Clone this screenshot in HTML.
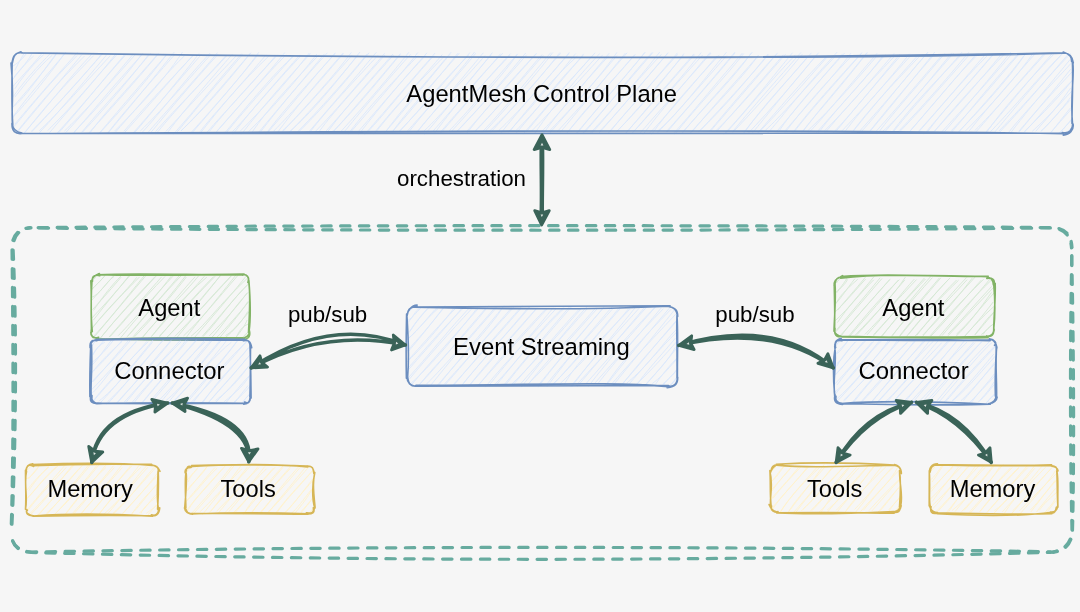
<!DOCTYPE html>
<html><head><meta charset="utf-8"><style>
html,body{margin:0;padding:0;background:#f6f6f6;width:1080px;height:612px;overflow:hidden}
svg{display:block;will-change:transform}
text{font-family:"Liberation Sans",sans-serif;fill:#000}
</style></head><body>
<svg width="1080" height="612" viewBox="0 0 1080 612">
<path d="M13.0 58.8C14.3 57.0 15.4 56.1 17.5 53.5M13.2 58.2C14.4 57.8 15.3 56.3 16.7 53.4M12.0 66.6C16.8 63.9 22.1 59.7 26.1 54.0M14.9 70.3C17.8 64.1 21.0 58.4 24.7 52.4M12.5 79.8C21.8 67.4 26.6 62.5 33.7 55.9M14.1 77.1C18.2 70.9 25.8 65.0 32.3 53.0M11.7 87.8C19.5 78.8 27.1 71.2 42.8 52.5M14.9 88.8C21.1 79.0 29.2 68.4 43.6 54.6M12.0 98.3C20.2 87.1 27.4 76.8 50.9 53.0M14.8 97.1C25.3 84.1 36.5 68.9 52.2 55.3M14.8 105.6C26.6 94.9 36.7 79.9 57.3 52.2M12.0 108.1C31.5 85.5 48.7 65.6 57.2 52.9M12.1 118.1C28.3 94.9 45.5 77.1 65.5 52.7M12.4 118.0C28.7 100.0 43.0 82.8 65.8 52.1M14.9 124.1C25.7 111.0 38.8 95.7 77.6 52.3M13.9 126.8C32.6 104.1 51.1 81.3 77.2 55.5M16.0 133.0C34.1 110.1 54.4 85.8 84.5 56.0M16.7 132.8C40.9 103.8 65.8 74.1 82.1 54.4M24.1 133.0C46.4 108.0 63.0 84.9 93.0 52.8M23.8 134.1C39.0 114.3 54.7 95.4 93.5 55.7M31.7 131.0C58.2 104.2 85.3 74.2 102.4 53.1M31.3 132.2C48.7 114.4 64.0 96.8 102.6 53.8M38.9 133.3C56.4 114.4 72.0 96.3 107.5 53.8M39.3 130.7C54.5 116.7 68.5 101.0 110.2 55.8M47.8 130.5C72.5 106.9 94.3 78.7 116.7 54.8M48.7 133.7C70.5 107.5 91.3 84.9 115.9 53.8M57.7 134.0C80.2 108.9 101.0 82.2 124.5 54.9M56.3 134.1C83.0 104.6 106.9 75.7 125.0 55.6M65.6 132.7C92.4 103.9 114.8 76.0 132.3 55.2M64.4 131.1C82.1 114.1 98.8 95.7 135.8 54.0M74.3 131.7C102.3 102.8 128.1 73.1 142.6 53.2M73.0 133.9C93.4 110.3 111.5 88.0 142.5 54.0M82.6 132.1C106.3 106.9 127.0 82.2 149.0 54.2M81.6 132.4C100.3 109.6 121.0 88.3 150.6 53.3M89.4 133.6C105.0 112.0 122.1 95.3 158.4 53.4M89.3 132.5C113.1 106.2 135.7 81.2 158.6 53.7M99.7 133.1C120.7 110.3 141.9 86.3 166.4 55.0M98.5 134.2C122.7 105.3 148.8 75.2 166.4 54.9M107.2 133.7C123.9 111.9 143.3 90.6 174.6 54.7M107.6 133.5C132.9 103.4 158.4 72.1 174.2 52.1M114.5 131.2C135.9 109.4 160.2 85.4 182.5 52.2M115.2 132.4C142.6 101.4 169.4 69.9 184.9 55.4M123.9 131.3C139.1 113.7 154.6 96.7 193.7 54.8M124.6 132.5C150.4 104.0 174.3 75.0 193.5 55.1M134.1 133.3C158.6 104.5 181.9 75.9 199.1 53.4M133.1 133.0C152.9 110.5 173.8 86.3 201.5 54.3M141.5 133.3C163.1 109.7 181.0 84.1 210.1 53.0M140.4 130.9C160.3 111.7 180.0 88.9 211.0 54.3M147.6 132.9C177.3 98.9 205.2 68.1 217.4 52.7M151.1 132.2C169.6 109.8 189.7 85.7 218.1 54.2M155.7 131.5C173.0 111.3 193.3 92.0 227.5 55.0M155.9 134.1C171.0 115.4 186.5 98.4 226.0 55.7M167.2 132.9C188.0 105.3 212.9 76.6 232.4 54.1M165.8 131.5C181.6 114.5 197.3 97.0 236.2 55.8M175.9 133.6C198.9 105.2 221.2 79.3 242.8 54.4M173.3 134.4C197.0 108.0 217.6 80.8 241.6 53.7M181.0 130.8C206.2 107.2 228.1 81.0 250.8 52.8M181.0 131.0C201.2 111.2 219.5 89.3 250.6 53.0M193.0 131.8C216.1 104.9 242.3 75.2 258.7 52.4M191.3 132.4C217.6 103.2 243.4 73.3 258.1 54.6M200.1 131.6C213.0 114.6 230.1 97.7 266.1 54.8M201.0 132.3C220.7 106.9 241.2 82.4 269.3 55.6M207.2 132.1C224.5 111.9 242.3 94.7 276.1 55.3M209.2 131.6C228.6 107.6 251.0 83.2 277.8 54.6M217.2 130.8C239.7 105.1 267.6 74.1 284.8 52.6M214.9 133.6C239.7 106.0 263.3 77.7 286.2 54.7M225.2 134.2C244.4 110.1 265.8 86.7 293.9 55.3M224.5 133.3C250.1 102.5 275.1 72.3 293.6 56.0M232.5 131.7C253.9 109.5 270.1 88.2 301.6 55.1M233.1 134.1C248.6 113.3 265.0 95.0 299.9 54.9M240.2 131.2C264.3 107.1 285.3 84.1 309.3 53.0M241.3 134.3C266.2 102.5 291.1 74.3 310.5 53.5M251.4 133.1C269.2 106.9 291.0 84.3 318.9 54.9M248.7 131.5C272.6 107.8 294.1 83.5 316.8 54.1M259.1 133.9C274.4 113.4 287.9 97.9 324.4 53.9M259.2 131.7C277.7 109.2 298.0 85.4 327.3 52.8M267.5 131.7C286.4 107.0 307.5 84.4 335.2 53.4M266.0 134.4C290.4 106.5 311.8 79.4 335.2 52.9M276.5 133.7C294.7 109.1 316.4 83.6 342.9 53.2M273.5 131.3C293.4 110.9 312.1 90.4 343.6 53.3M281.2 133.2C309.2 103.0 333.0 77.0 351.4 52.4M282.5 130.8C301.0 113.6 316.9 94.8 352.1 55.3M289.2 132.1C311.2 112.8 330.4 89.7 359.9 52.1M289.6 132.0C309.6 112.0 328.4 90.7 358.1 55.1M299.5 131.1C326.3 104.8 351.5 73.8 369.1 52.8M297.9 131.5C326.0 102.8 352.1 72.7 367.2 53.9M309.5 132.7C322.7 115.6 336.9 99.3 378.1 55.3M307.0 134.1C329.8 107.1 352.8 81.1 376.3 52.3M318.0 133.1C330.0 116.3 345.9 99.0 384.8 55.2M314.8 132.0C330.7 115.9 344.5 100.2 384.7 53.3M323.2 134.3C348.1 106.4 369.8 81.2 393.6 55.0M325.9 133.9C348.3 104.2 372.5 77.6 392.9 54.1M331.1 133.4C353.4 111.2 371.8 88.8 400.4 54.4M332.9 132.1C347.2 116.2 362.8 98.5 400.4 53.6M343.1 133.2C360.3 112.2 376.9 92.0 410.5 54.3M339.8 132.7C368.8 101.2 393.3 71.9 408.8 52.3M349.0 132.8C373.2 101.0 402.4 72.4 417.9 55.7M348.8 134.2C377.4 101.2 404.3 70.5 417.7 52.7M358.5 131.3C384.4 101.6 406.9 74.8 425.5 55.6M358.8 134.3C383.0 102.8 408.1 73.9 427.0 52.8M367.5 132.0C383.5 115.3 399.3 94.1 433.8 55.7M364.7 134.4C389.3 106.2 412.2 79.1 435.0 53.1M373.8 133.5C390.2 112.5 408.5 92.5 444.5 56.0M374.2 134.2C388.8 115.3 403.0 100.0 442.3 54.6M384.4 133.2C407.4 106.3 430.3 77.6 449.9 54.4M384.2 133.7C399.4 112.7 416.3 93.5 451.2 52.1M392.8 131.2C411.4 105.4 434.6 82.0 459.4 53.1M391.6 132.7C417.2 103.2 440.4 75.1 457.8 53.3M400.1 130.9C423.1 106.1 442.9 80.6 468.7 55.3M399.2 131.4C425.7 103.7 449.1 77.0 469.9 52.6M407.0 134.1C426.1 109.9 446.6 87.1 474.6 52.1M407.0 131.5C435.0 100.3 462.0 70.4 475.7 53.3M416.0 133.1C441.5 101.4 471.1 72.4 485.0 55.5M415.9 133.6C436.0 108.8 455.9 86.2 483.3 52.8M424.5 134.5C442.1 115.1 456.8 94.2 491.3 54.8M423.5 131.5C443.5 112.6 462.7 89.9 492.4 52.6M434.0 134.1C457.8 101.0 485.7 69.7 502.9 53.3M432.7 131.5C456.3 104.6 481.6 76.6 500.6 53.7M440.5 133.4C463.8 106.6 483.0 82.9 510.5 53.6M440.6 131.9C459.2 110.2 477.8 89.6 509.9 55.2M451.5 131.4C477.8 101.9 505.9 71.7 517.0 54.5M448.0 132.0C464.4 115.5 479.2 97.7 517.6 53.9M456.5 131.9C473.5 113.1 490.1 97.0 526.6 54.8M456.4 132.1C471.4 116.6 486.4 100.5 525.7 53.0M466.7 131.5C481.4 114.6 494.5 100.3 536.5 53.5M467.0 133.0C487.1 107.2 508.4 83.3 536.2 53.5M474.9 131.7C501.1 104.9 526.3 71.8 542.0 54.7M474.4 131.5C492.5 113.4 509.4 93.9 543.3 55.3M484.7 131.8C511.2 102.6 537.9 72.7 552.7 52.6M482.7 131.6C505.8 107.0 526.9 81.0 550.7 52.7M489.8 130.9C513.6 107.8 533.2 86.7 559.7 52.7M490.5 132.5C517.0 103.6 542.3 74.0 560.6 53.3M501.2 132.8C517.4 111.9 536.4 91.5 569.3 52.5M498.6 130.6C518.6 112.1 538.1 88.9 568.9 53.7M510.2 130.7C531.5 104.8 551.1 79.8 577.4 56.0M508.4 132.4C523.5 115.2 539.7 98.7 575.6 53.6M516.1 133.3C538.4 107.6 558.9 79.7 583.2 55.7M515.9 130.6C533.8 112.7 551.0 93.3 583.7 53.9M523.2 134.1C543.2 110.0 561.3 90.2 595.1 52.8M526.1 132.1C549.5 103.4 576.2 74.2 592.3 55.8M534.6 133.4C556.6 101.4 582.1 72.5 599.8 53.4M531.3 131.3C558.4 104.0 581.5 78.0 602.7 54.9M542.7 134.4C558.6 111.9 578.9 88.9 608.9 55.6M541.2 132.0C555.8 117.4 569.2 101.0 609.3 53.1M549.3 133.5C575.1 104.1 602.4 74.0 616.9 52.4M548.0 132.5C565.6 114.3 581.5 97.6 617.0 55.5M560.3 132.2C577.8 111.2 593.6 92.4 625.3 53.1M557.0 131.9C581.5 105.7 603.7 79.8 627.1 52.8M567.2 132.5C588.4 105.1 611.5 82.0 634.7 54.7M567.1 132.8C586.2 109.6 605.8 88.2 635.3 54.4M577.0 133.5C601.2 103.2 630.2 71.5 644.7 52.5M576.4 133.1C603.1 102.3 629.9 70.4 645.2 52.3M584.6 132.3C608.7 104.9 632.8 73.2 652.2 52.3M582.3 133.7C604.8 108.6 625.4 84.5 652.8 52.6M591.1 134.0C612.3 110.2 628.3 89.8 661.3 54.5M590.5 133.0C619.1 102.4 643.7 72.5 659.7 52.1M599.2 132.9C619.4 110.0 635.4 91.0 668.2 52.5M599.5 131.3C615.6 115.2 630.3 97.0 667.5 53.6M609.7 132.1C623.7 114.6 641.2 96.0 677.4 52.9M607.5 133.9C630.6 107.1 652.7 82.2 677.6 54.4M615.9 132.3C639.0 109.0 657.7 87.8 684.0 53.6M616.4 131.9C632.2 115.8 647.2 97.4 683.4 55.6M626.0 133.2C639.5 117.2 656.8 96.6 693.9 53.9M625.8 132.9C644.7 112.3 663.3 89.8 694.6 54.6M633.3 132.1C656.5 105.3 681.0 78.5 701.2 52.6M632.1 133.1C652.3 111.7 670.6 89.9 702.6 55.1M643.2 134.3C658.7 113.7 671.8 98.1 710.2 52.4M640.3 132.8C665.8 103.6 691.0 75.9 711.1 53.0M649.9 132.7C670.0 112.1 687.8 89.9 717.0 55.9M651.6 134.4C670.9 107.4 691.2 85.1 719.3 54.9M656.9 131.7C676.1 115.6 691.4 95.0 726.4 52.3M657.8 132.5C676.6 112.9 694.4 92.5 726.7 55.6M665.9 132.0C685.9 110.2 704.6 88.1 734.9 52.2M667.0 132.1C692.0 102.8 717.4 74.5 735.0 52.9M674.8 134.4C697.1 106.1 724.8 77.7 743.8 53.5M674.4 132.5C692.8 112.5 709.6 90.7 742.4 53.1M683.1 131.6C708.9 102.2 734.6 77.0 751.1 53.3M681.7 133.6C707.0 104.0 732.8 76.0 752.3 52.1M689.9 133.4C717.5 102.7 746.2 73.3 758.4 55.1M691.7 132.2C710.4 109.7 731.3 86.6 758.6 55.3M698.7 131.7C724.7 107.1 747.3 79.6 768.1 54.1M700.1 130.6C725.8 102.9 751.4 75.1 768.4 54.8M709.5 131.2C727.4 110.1 745.4 88.1 776.2 54.4M709.9 131.9C729.7 108.5 751.2 84.3 777.6 52.9M715.9 130.8C735.1 112.1 751.8 92.5 785.6 54.2M716.9 131.4C743.7 100.7 769.8 71.2 783.3 54.8M723.9 134.3C747.6 109.3 766.4 84.6 792.4 52.8M726.3 132.8C746.8 109.8 767.4 84.5 795.3 54.9M732.7 131.5C748.7 112.1 767.3 90.8 800.9 52.5M732.7 132.5C755.0 108.8 775.2 86.9 802.3 54.2M743.6 133.6C764.6 103.3 791.0 77.3 811.3 52.9M743.7 132.5C762.1 109.1 781.3 87.5 808.6 55.8M748.7 132.8C772.1 107.9 795.4 81.4 816.8 54.7M752.2 133.2C766.3 116.2 780.2 98.0 818.6 52.7M757.4 133.3C779.4 108.5 798.9 84.5 827.1 55.9M758.0 133.3C781.4 109.2 802.7 84.6 828.3 55.7M767.7 133.0C781.4 118.1 793.2 100.4 837.1 52.1M765.1 130.6C782.3 114.8 796.8 97.1 836.3 55.2M777.2 133.8C789.3 115.7 802.7 98.7 844.7 53.0M776.0 132.3C796.4 108.6 817.9 82.2 842.6 53.9M784.3 131.5C808.4 103.9 834.1 75.6 850.9 53.2M784.9 132.7C800.6 111.9 819.1 89.9 851.6 56.0M794.0 132.0C809.5 111.6 830.8 88.3 861.4 53.5M791.9 133.8C808.5 112.0 826.8 90.9 861.9 52.6M802.1 131.9C818.0 111.5 833.6 95.8 867.4 52.5M802.2 132.3C822.4 105.1 845.1 80.4 866.9 52.7M807.5 131.0C827.9 111.8 846.5 91.5 877.1 55.8M808.0 133.5C824.8 116.1 838.0 98.8 877.2 53.2M817.5 133.9C840.7 103.2 867.1 78.2 883.4 55.1M815.8 133.4C836.3 110.0 855.5 89.6 885.3 54.6M824.6 130.7C845.0 110.6 865.4 87.0 894.2 53.3M825.1 132.7C843.3 110.8 862.7 89.3 895.4 55.4M835.7 131.7C858.7 103.8 884.6 73.7 900.6 55.8M833.2 132.7C851.9 112.9 869.5 91.7 900.0 54.0M842.0 130.9C859.3 112.3 877.2 94.4 909.5 53.8M843.4 133.7C856.0 116.6 871.3 98.7 910.6 55.8M851.8 132.5C870.2 108.2 890.0 87.3 919.9 55.9M851.3 133.7C876.9 101.3 903.1 71.5 917.7 55.7M860.0 132.9C874.4 118.4 887.3 98.9 927.7 52.4M857.6 133.3C885.8 102.6 912.6 69.8 928.0 52.2M868.7 132.8C894.0 103.3 917.7 73.0 934.8 52.1M867.8 133.6C882.9 114.7 898.0 96.0 934.2 54.6M877.2 134.1C897.0 108.1 921.3 81.6 944.9 53.3M873.7 134.0C893.0 112.4 910.9 91.8 942.6 54.3M882.1 131.9C901.2 115.4 918.6 93.8 951.7 52.9M883.6 133.2C903.8 110.0 923.7 87.6 953.7 53.0M891.0 133.6C910.7 106.9 933.7 83.2 961.3 54.9M893.0 132.3C909.7 110.8 927.8 91.8 962.0 52.2M900.3 131.0C915.2 115.7 931.1 98.2 969.4 54.7M899.1 130.7C923.3 105.9 944.5 81.3 968.7 52.4M909.3 131.8C937.0 100.3 960.9 70.1 978.6 54.0M907.9 133.7C928.7 109.7 947.3 87.6 977.0 53.3M918.3 132.3C939.4 108.8 961.5 81.3 987.1 55.9M918.2 131.7C942.2 105.1 966.5 76.5 985.2 54.6M927.5 131.9C942.8 111.3 958.3 95.0 992.9 54.5M924.4 134.2C941.5 112.8 959.7 94.2 993.4 54.4M934.3 131.5C957.7 105.5 980.4 80.4 1000.7 55.1M933.0 132.8C951.7 111.1 969.1 90.5 1003.8 54.7M940.9 132.9C959.3 112.5 979.0 92.4 1012.3 53.4M943.1 133.3C967.6 104.9 990.5 77.3 1010.7 52.1M949.9 134.0C970.9 110.4 986.6 88.3 1017.2 55.2M951.4 130.6C975.4 105.9 997.9 78.3 1019.7 53.3M958.2 132.3C986.3 103.3 1011.1 75.5 1026.1 52.9M958.4 132.3C981.5 107.1 1004.6 81.4 1025.9 53.4M968.8 131.4C990.5 104.1 1015.2 76.6 1036.4 52.3M965.7 130.7C992.1 104.5 1017.7 75.3 1033.8 52.4M974.8 133.2C990.1 116.2 1003.1 100.0 1044.2 53.4M974.7 130.6C994.3 111.6 1012.7 89.3 1045.3 53.9M985.1 133.0C1005.6 109.0 1025.6 84.2 1051.8 54.0M985.2 134.1C1003.5 108.4 1023.7 85.4 1053.5 54.5M993.7 133.2C1011.2 112.8 1027.8 91.2 1060.8 55.5M990.7 131.5C1019.8 100.9 1046.1 69.1 1062.1 54.1M998.8 131.1C1028.1 101.1 1054.2 69.6 1070.7 53.7M999.4 132.4C1025.4 105.1 1048.1 76.9 1069.1 53.3M1008.0 133.1C1027.5 108.7 1049.5 87.0 1073.5 60.7M1010.3 133.4C1023.2 116.0 1035.5 101.7 1070.3 59.3M1019.3 131.8C1028.1 121.0 1038.9 107.3 1072.2 71.8M1018.7 131.5C1029.1 119.0 1040.0 107.5 1070.7 69.2M1024.5 131.4C1042.4 114.0 1061.6 94.3 1072.4 80.2M1024.0 132.5C1038.0 118.0 1050.0 102.3 1073.6 79.2M1035.8 131.2C1044.4 120.9 1055.5 109.7 1070.7 88.0M1032.3 131.3C1047.4 118.0 1060.6 102.9 1072.7 90.2M1041.1 130.7C1046.5 127.1 1054.1 116.9 1069.9 100.3M1040.9 131.6C1050.9 121.2 1060.3 111.5 1070.4 97.5M1051.1 132.5C1056.8 125.2 1061.9 118.4 1070.5 107.8M1050.4 132.7C1055.7 126.9 1058.8 123.2 1071.2 109.3M1058.4 133.5C1065.2 127.8 1070.5 120.3 1071.3 119.4M1060.1 133.9C1063.4 127.5 1069.0 123.0 1072.0 119.6M1068.1 132.0C1069.0 130.6 1070.4 129.0 1071.1 127.8M1067.1 132.4C1068.8 131.6 1069.5 129.9 1071.9 127.3" stroke="#dae8fc" stroke-width="0.9" fill="none"/>
<path d="M21.0 53.0C406.3 58.4 791.0 58.4 1063.4 52.8M21.3 52.7C436.6 58.7 851.4 59.3 1063.8 53.3M1062.7 53.0C1069.2 52.5 1072.4 55.8 1073.3 62.9M1063.2 52.1C1070.3 54.6 1071.7 56.7 1071.6 61.4M1072.8 62.5C1074.8 77.2 1069.8 94.7 1072.6 124.9M1072.4 61.4C1073.2 81.8 1072.0 102.7 1072.0 123.4M1072.7 123.5C1072.8 129.2 1069.6 134.3 1062.3 132.5M1073.1 124.1C1074.0 130.3 1069.6 134.7 1063.3 135.1M1063.7 133.6C795.1 129.8 526.9 130.4 21.3 133.5M1063.1 133.2C748.8 134.5 434.3 134.6 21.0 133.5M22.0 133.5C15.3 134.3 11.7 131.3 12.0 123.2M21.9 133.1C17.0 132.0 11.7 128.7 12.6 122.3M12.5 124.2C11.0 109.3 14.4 94.1 11.0 63.0M12.8 124.8C11.4 106.4 11.8 87.3 12.2 61.3M12.0 63.0C13.1 55.9 14.4 53.7 21.0 51.8M12.4 62.9C13.4 57.3 14.3 51.5 22.3 52.9" stroke="#6c8ebf" stroke-width="1.6" fill="none" stroke-linecap="round"/>
<path d="M408.4 311.7C409.8 311.5 410.5 309.5 412.7 307.9M407.7 312.3C410.0 310.7 411.1 308.8 412.1 307.0M407.9 322.6C413.4 316.7 415.4 310.3 419.5 308.6M407.7 320.6C412.8 317.7 414.9 313.6 421.1 307.8M410.1 331.0C416.1 322.2 422.6 313.7 429.7 306.8M408.9 332.8C413.4 325.1 418.8 317.9 427.5 308.6M406.7 339.6C420.1 329.7 429.1 314.3 438.5 306.3M407.0 340.2C419.1 328.0 430.7 314.8 438.0 308.6M406.5 351.8C418.8 337.5 428.2 328.4 445.0 305.5M407.6 352.3C419.7 338.1 428.9 326.3 444.1 307.6M406.8 362.2C419.0 350.3 430.6 338.1 454.7 307.3M408.3 359.9C424.4 342.2 441.0 323.1 455.3 308.7M406.8 371.7C419.7 356.4 432.2 343.3 461.6 308.5M406.2 370.0C421.4 353.6 435.8 335.8 463.5 307.8M407.0 379.3C428.2 356.1 448.5 329.9 469.6 307.5M409.5 378.9C428.0 356.7 449.5 332.6 471.8 308.7M410.2 384.1C439.8 357.2 464.3 323.9 478.6 306.4M411.3 385.0C433.4 358.9 455.7 333.9 480.0 306.7M419.4 384.6C439.7 359.8 462.5 338.8 488.9 305.5M418.4 385.6C438.6 364.7 455.0 343.7 485.6 308.5M426.6 384.0C443.8 366.7 462.1 345.7 495.7 306.8M429.5 386.9C447.9 363.5 468.5 339.1 497.8 306.2M436.3 386.6C462.3 356.2 487.6 330.8 504.2 305.6M438.3 385.6C454.9 364.4 471.2 345.8 503.6 306.3M445.1 384.8C460.3 367.9 472.4 352.9 511.9 307.4M444.1 384.4C463.1 363.4 482.5 342.0 514.1 306.8M451.7 386.3C473.0 363.4 491.7 341.9 520.9 308.6M454.0 385.0C477.5 356.5 502.4 328.4 522.3 305.6M463.2 383.4C485.0 357.3 510.6 329.2 529.5 306.0M460.8 386.7C484.4 357.0 509.5 331.1 530.3 306.5M468.2 386.9C484.4 366.2 498.8 350.6 536.0 308.9M469.1 385.9C495.9 354.8 522.7 325.0 537.3 307.8M479.6 384.1C502.9 354.3 530.7 324.7 545.3 309.4M477.1 386.1C497.5 364.4 514.0 344.4 547.1 309.0M488.5 386.1C504.2 365.9 522.5 345.3 553.4 307.5M485.2 387.1C508.8 358.6 532.8 334.2 556.0 308.8M493.3 386.1C520.8 357.7 542.7 325.8 563.6 307.4M495.7 385.9C520.2 355.5 545.7 325.5 564.2 308.3M503.2 385.9C528.0 356.0 550.2 329.1 570.0 306.3M505.0 385.9C519.0 366.7 536.7 347.4 571.4 306.8M509.9 385.9C532.1 364.8 549.0 344.5 581.2 308.7M512.2 385.8C539.4 355.1 565.3 322.9 580.6 307.9M521.1 387.2C546.6 355.4 573.2 321.0 587.0 306.8M520.8 383.6C546.8 354.3 573.4 323.7 587.4 308.6M528.5 384.1C543.8 364.0 565.5 343.1 596.0 307.5M527.8 384.3C546.1 366.6 563.0 346.6 597.5 308.4M538.1 387.2C552.7 367.1 566.1 352.5 604.8 305.9M538.7 384.7C562.5 355.2 589.5 323.7 603.6 307.8M547.0 386.8C564.4 363.1 581.8 341.9 613.0 305.7M546.0 385.3C558.3 369.2 573.2 352.3 614.0 307.4M551.6 385.3C575.4 363.1 591.8 340.8 621.9 306.7M553.5 384.3C576.8 358.5 600.9 330.7 620.5 306.2M563.7 385.6C572.9 367.9 586.3 354.1 629.9 309.2M560.4 383.3C579.7 365.3 597.0 346.1 628.7 308.7M570.6 386.7C589.7 362.8 611.1 338.9 639.1 308.3M571.8 386.9C587.6 364.3 604.1 346.7 636.0 306.6M576.8 384.6C590.8 368.9 606.5 353.6 644.5 307.5M577.5 386.5C592.3 368.1 607.7 350.9 646.3 307.5M585.7 384.0C609.2 357.4 632.7 329.9 655.2 307.1M588.2 386.7C601.4 369.2 615.2 352.4 656.2 306.2M596.4 385.6C609.2 368.6 623.5 353.1 661.3 307.8M593.7 384.4C616.2 359.2 638.2 334.3 663.5 308.6M604.8 386.4C621.9 361.0 641.4 339.5 671.0 309.3M605.4 386.2C621.8 365.5 638.1 344.8 669.4 308.1M612.1 383.5C636.9 354.9 662.0 328.9 677.5 312.3M613.0 385.5C630.6 363.4 649.5 341.6 675.0 309.2M620.7 386.7C636.9 365.0 651.9 349.3 676.8 321.0M619.9 386.6C640.1 364.6 657.1 342.3 676.7 320.1M626.6 383.3C648.6 365.7 664.5 341.0 676.8 329.0M627.7 385.6C643.2 367.7 658.6 350.1 677.2 331.6M635.9 385.8C646.4 371.3 656.0 361.1 675.5 338.1M636.0 384.7C652.2 369.5 666.0 353.6 676.9 341.4M644.8 385.5C654.3 374.2 666.9 362.9 675.4 347.4M645.4 385.3C654.1 375.3 662.7 365.4 676.7 348.2M655.4 384.4C659.1 379.2 663.7 371.9 677.7 357.2M652.4 383.5C659.4 378.2 665.3 372.6 677.0 358.8M662.7 384.1C667.6 380.2 673.3 374.9 676.7 369.5M662.9 386.1C665.1 381.8 670.5 376.6 678.5 368.9M670.5 385.6C672.3 383.8 673.7 381.8 676.7 378.3M669.5 385.5C672.4 382.9 674.6 380.8 675.9 378.1" stroke="#dae8fc" stroke-width="0.9" fill="none"/>
<path d="M414.9 307.0C482.9 307.4 551.8 306.5 670.1 305.7M414.6 307.2C510.7 309.3 604.5 309.3 668.8 306.2M668.5 306.4C674.3 307.4 676.5 309.5 677.4 315.5M669.3 306.7C673.9 307.9 677.8 308.6 677.7 316.6M677.1 313.9C676.2 327.5 677.3 341.7 677.0 378.2M677.0 315.6C678.2 332.8 677.3 352.6 677.4 378.4M677.5 377.2C676.9 384.1 673.9 387.2 668.3 385.9M677.7 377.3C677.7 383.4 676.0 387.0 667.1 387.8M668.6 386.7C616.7 382.0 564.7 384.2 416.0 385.4M668.5 385.5C609.7 386.2 552.0 386.5 416.0 386.3M416.2 386.2C411.3 386.7 406.5 382.9 407.1 376.2M417.3 386.2C409.2 386.2 408.2 382.4 407.5 375.8M407.6 377.5C408.8 362.8 409.2 349.4 406.9 315.6M406.4 378.3C406.0 358.2 406.0 341.2 406.6 314.1M407.2 315.4C407.9 309.3 409.3 306.9 417.5 306.7M407.1 315.5C407.9 310.5 411.2 305.5 417.1 305.1" stroke="#6c8ebf" stroke-width="1.6" fill="none" stroke-linecap="round"/>
<path d="M92.4 280.2C93.8 279.4 94.6 278.9 96.4 276.0M92.5 281.0C93.7 279.0 94.8 277.6 96.3 276.0M91.0 291.0C93.9 286.8 96.4 284.7 104.6 276.4M90.8 290.1C95.3 285.6 100.2 281.8 105.7 274.4M90.8 297.8C100.9 293.9 105.6 282.2 114.1 276.4M91.2 300.8C97.1 294.3 100.9 290.4 113.6 275.8M92.4 309.7C99.4 302.1 106.7 294.1 121.2 277.1M93.6 310.4C101.4 298.8 109.4 287.6 122.2 274.7M92.0 317.9C103.6 305.7 118.0 290.2 129.1 275.5M93.4 320.1C103.4 307.3 113.6 293.9 130.5 275.0M92.4 328.0C107.2 308.3 125.9 291.6 136.8 277.3M90.4 330.0C109.2 307.5 129.1 287.4 139.5 277.0M92.3 337.6C106.7 322.6 118.8 307.4 145.6 273.9M92.4 339.3C110.1 317.9 127.4 297.6 145.7 275.9M99.3 339.4C117.6 316.4 136.0 298.3 156.3 275.9M100.5 337.9C113.9 321.6 127.4 305.6 155.0 276.7M110.1 336.7C125.6 319.5 140.5 301.7 165.1 276.4M109.0 337.1C121.5 323.1 133.8 308.6 161.6 276.9M119.7 339.1C132.9 322.3 148.3 305.9 171.3 276.1M118.3 335.6C130.0 323.7 140.8 311.3 173.0 276.2M126.6 337.3C140.1 323.5 149.7 308.7 181.8 275.1M127.9 335.9C139.1 322.5 152.8 307.0 180.6 274.1M133.2 336.7C144.6 322.9 157.6 312.8 186.9 274.1M134.5 336.8C154.2 316.6 172.3 294.9 186.4 277.0M142.6 337.8C156.0 319.1 174.1 305.4 198.6 275.9M141.5 338.2C161.2 316.5 179.1 294.3 195.1 276.8M151.3 336.8C166.9 317.0 181.5 298.8 206.8 277.2M151.9 336.0C167.1 318.7 183.7 299.6 204.4 276.3M159.6 335.8C171.5 323.6 184.2 307.7 215.3 276.1M159.1 337.2C178.4 314.7 196.5 293.7 213.6 276.6M166.2 338.2C189.6 314.8 207.9 291.4 221.3 274.4M166.0 338.1C181.1 323.1 192.6 308.8 220.4 275.7M175.0 336.3C190.5 320.4 208.7 300.7 231.8 275.4M176.1 338.6C191.9 319.0 206.2 301.8 231.0 276.1M185.8 338.1C196.8 322.4 207.8 311.2 236.8 273.9M183.5 335.9C200.0 320.6 215.0 301.9 239.4 273.7M191.1 336.2C206.7 323.6 217.4 306.4 248.1 277.6M193.9 338.2C214.0 314.9 233.9 291.7 246.6 275.5M203.0 336.7C218.0 321.2 231.3 300.0 248.9 283.7M202.3 336.3C220.1 316.0 237.7 294.3 248.0 284.2M210.8 338.6C223.2 325.2 232.2 309.3 248.4 292.1M209.4 335.8C223.1 321.9 238.5 305.4 246.8 293.1M216.6 337.5C226.9 327.4 237.4 315.5 248.9 301.5M218.9 338.8C228.9 326.1 240.5 313.6 247.9 301.5M224.7 338.2C233.3 331.1 242.2 321.3 247.9 311.4M225.5 335.6C232.1 331.8 236.4 326.6 250.4 310.4M236.3 337.0C239.4 331.4 241.1 326.7 249.7 323.4M235.8 337.6C240.5 331.9 245.4 324.9 247.1 320.0M242.3 338.0C244.0 335.1 246.9 333.5 248.7 331.4M243.3 337.4C244.6 336.1 245.7 334.0 248.3 332.0" stroke="#d5e8d4" stroke-width="0.9" fill="none"/>
<path d="M96.5 274.7C142.3 272.8 192.1 275.1 242.7 274.9M98.2 274.6C134.8 276.0 174.4 275.4 244.1 274.1M242.5 274.7C246.9 273.6 249.4 278.2 248.7 280.9M242.6 275.1C246.0 273.8 249.9 276.2 247.9 282.4M248.9 280.5C250.5 300.8 250.7 319.7 249.0 331.9M248.7 281.7C250.2 291.1 250.2 303.6 248.5 332.2M249.5 331.6C249.1 335.8 246.0 337.9 241.2 338.5M249.5 330.9C250.9 337.6 247.2 339.6 242.0 339.5M243.0 337.9C191.0 337.4 140.9 338.2 97.5 339.2M243.7 339.1C197.2 340.7 150.4 340.0 97.6 338.7M98.3 338.6C94.8 338.1 90.5 336.3 90.8 332.2M98.7 337.3C92.6 339.0 90.9 336.9 91.2 330.3M91.5 332.6C91.2 315.0 90.6 300.4 92.0 280.8M92.3 331.5C90.2 313.0 92.0 296.3 90.8 280.9M91.3 281.7C92.3 277.6 93.9 275.7 99.4 273.6M92.5 281.2C91.7 277.9 92.9 274.0 99.7 275.7" stroke="#82b366" stroke-width="1.6" fill="none" stroke-linecap="round"/>
<path d="M92.1 345.9C93.8 343.1 94.6 341.1 95.7 340.6M92.0 345.7C92.7 344.1 94.3 342.7 96.0 340.9M92.7 354.3C94.2 353.6 95.1 347.3 104.9 342.2M92.9 355.1C95.1 350.7 97.1 348.5 105.2 338.9M91.1 363.2C94.7 359.9 102.8 354.6 114.3 339.0M92.2 365.0C99.4 357.5 104.6 348.7 111.0 340.7M89.8 375.7C97.3 365.0 106.1 356.0 122.1 341.4M91.9 372.5C97.8 366.7 104.9 359.6 122.7 339.8M91.3 382.6C101.0 371.5 113.7 360.0 130.6 340.4M92.7 382.0C103.8 369.6 115.4 356.1 128.2 340.8M90.5 394.7C102.4 384.1 109.7 370.3 137.0 340.5M89.9 391.4C108.0 373.5 124.1 353.9 136.2 342.0M93.6 401.0C105.2 386.7 117.5 374.8 146.9 341.4M92.7 401.4C105.3 385.3 120.8 369.1 148.1 341.8M98.7 401.3C115.1 388.2 127.7 372.2 152.5 342.2M100.5 402.6C115.0 387.0 127.9 371.0 153.1 339.9M106.9 404.4C124.9 386.1 136.1 368.9 163.8 339.7M107.4 402.0C120.9 389.3 132.4 376.3 161.8 341.5M115.9 403.8C129.9 387.6 141.5 377.5 170.5 341.7M116.5 403.8C136.2 382.2 153.3 360.1 171.9 339.4M126.4 401.8C135.8 390.8 145.4 377.8 180.3 340.4M124.3 402.1C146.0 377.9 168.0 354.6 181.1 341.9M132.3 402.1C154.9 376.2 177.8 352.7 186.8 338.8M134.4 402.2C150.0 382.1 167.6 364.1 187.8 340.5M141.2 403.7C156.2 384.8 171.9 367.2 197.2 338.9M143.2 401.9C159.0 382.6 175.2 364.2 196.6 340.4M149.7 401.3C162.2 388.2 171.3 374.7 205.0 342.0M152.0 401.6C169.3 381.1 189.6 358.4 205.0 339.9M159.5 403.1C171.4 390.9 180.7 374.6 211.2 340.0M157.7 401.9C180.2 378.0 200.7 354.9 213.5 338.6M166.4 404.5C181.7 386.6 195.9 369.4 220.7 339.6M165.6 401.0C181.6 387.3 196.0 370.6 222.2 339.3M173.8 401.0C191.0 383.1 208.7 363.9 227.8 339.0M174.2 401.3C196.8 376.9 216.4 354.0 231.4 342.2M185.7 404.1C206.0 380.4 225.1 357.3 237.6 340.8M183.8 404.0C205.1 379.0 226.4 355.7 236.8 341.3M192.1 403.9C211.2 378.1 232.5 354.5 246.9 341.7M191.5 402.1C210.2 382.9 228.4 362.7 246.4 341.5M202.1 403.8C217.0 380.1 236.8 362.9 248.1 348.0M201.3 403.0C217.5 384.0 234.7 364.2 251.1 345.1M208.8 402.1C221.6 387.8 235.7 372.3 247.4 357.7M208.3 402.9C216.9 391.8 225.9 383.2 250.5 354.3M215.5 400.6C224.5 393.3 233.8 386.6 248.3 366.7M215.7 402.4C225.7 392.3 234.6 382.8 248.9 365.9M224.3 401.6C236.0 392.3 244.4 384.7 250.1 374.9M225.7 403.0C234.3 393.1 241.5 383.5 249.0 376.1M233.1 404.3C239.5 396.1 246.8 391.2 250.7 385.0M233.7 402.3C237.5 399.6 241.0 394.1 248.0 385.7M242.2 402.9C244.7 399.2 246.6 397.2 249.5 394.5M242.7 402.5C244.4 399.9 246.9 396.8 249.5 394.1" stroke="#dae8fc" stroke-width="0.9" fill="none"/>
<path d="M96.0 339.4C150.8 337.9 207.5 338.0 245.0 339.4M96.5 340.3C136.5 338.1 177.7 340.4 244.8 340.1M243.3 339.5C248.3 339.5 249.8 341.0 250.2 347.4M243.4 340.8C249.0 339.6 250.6 341.6 251.7 347.6M250.0 346.2C250.4 359.0 250.9 370.8 251.1 398.1M250.6 344.9C250.2 360.3 250.6 375.3 249.9 396.8M250.3 396.5C249.7 401.3 248.9 403.9 243.7 404.2M250.0 396.3C250.8 400.2 248.8 404.9 244.6 402.0M244.3 403.2C185.9 402.6 131.6 402.2 97.0 403.7M244.8 403.4C192.2 403.3 138.3 404.2 97.4 403.0M97.8 403.5C94.3 403.0 90.8 401.1 92.0 395.6M97.2 403.8C92.7 403.0 89.6 402.6 90.6 396.8M91.2 396.4C90.3 383.4 92.7 371.2 91.5 344.8M89.9 396.8C89.7 384.6 89.7 371.2 90.7 345.6M90.8 346.5C90.0 341.9 93.3 339.7 98.4 339.4M90.1 347.7C89.5 341.2 92.9 339.2 96.8 340.7" stroke="#6c8ebf" stroke-width="1.6" fill="none" stroke-linecap="round"/>
<path d="M835.4 283.0C836.5 281.9 838.4 281.0 840.6 277.8M836.5 283.1C837.3 281.4 838.2 280.4 840.5 278.3M836.7 292.8C839.0 288.9 846.4 283.5 847.4 279.4M835.9 292.3C838.6 289.6 841.6 287.1 847.6 277.1M835.9 303.4C843.1 295.4 845.5 290.5 854.8 278.8M835.4 304.3C839.8 296.3 843.7 291.8 857.7 279.3M834.8 312.2C843.7 304.2 850.7 295.5 865.6 279.1M837.7 310.0C845.0 300.9 854.0 291.3 865.7 276.8M834.0 321.9C849.9 307.3 861.2 292.0 873.7 279.9M837.4 322.6C847.7 307.3 859.3 294.9 874.0 276.6M835.0 332.7C849.9 316.3 862.9 300.4 882.0 278.5M836.0 330.6C848.5 315.4 861.7 300.3 880.1 277.8M841.8 335.1C849.3 324.6 859.7 313.5 889.4 280.0M840.9 334.9C851.4 323.2 861.5 311.0 890.3 278.9M848.8 337.3C867.2 316.0 887.4 292.9 898.1 280.2M848.9 335.9C864.6 316.9 879.8 298.2 899.4 279.6M855.3 335.1C875.4 314.0 892.6 296.8 905.4 277.1M857.0 334.6C874.7 316.4 890.3 296.2 904.9 279.9M867.0 334.9C884.4 315.6 902.9 291.4 914.2 279.2M864.9 334.4C876.9 322.1 888.4 309.3 916.5 279.6M872.1 337.5C884.7 322.8 895.3 310.6 925.5 279.0M873.5 334.7C884.0 323.5 896.2 310.3 924.5 277.9M881.6 336.9C896.8 317.3 911.5 298.2 930.8 276.4M880.1 337.7C895.5 319.7 910.2 302.2 932.3 277.7M891.1 337.8C899.9 325.0 910.4 312.3 939.4 277.9M891.9 335.6C910.3 313.9 928.5 292.3 940.9 277.8M899.5 336.6C918.9 313.5 937.2 290.2 950.1 277.9M899.7 335.7C915.0 315.8 933.7 295.1 948.4 279.6M906.4 336.6C917.0 323.4 925.4 312.3 958.5 280.3M908.6 334.4C923.2 316.5 940.1 296.1 956.6 280.0M915.2 336.0C931.7 317.9 946.4 298.3 966.6 277.5M916.8 335.4C927.2 321.4 940.2 308.8 967.1 279.7M922.3 336.8C940.3 314.2 958.3 295.7 975.2 277.0M922.8 335.0C940.9 317.6 957.9 297.2 972.5 277.8M930.0 335.9C944.1 319.6 957.9 305.0 983.7 279.2M930.8 336.3C946.3 320.1 960.0 303.6 981.3 280.1M942.0 335.7C959.2 315.5 976.6 295.0 990.4 278.5M939.1 336.6C955.5 317.4 970.2 300.6 992.3 279.2M948.0 334.1C962.6 319.3 976.7 302.1 991.7 286.4M948.1 335.7C962.2 320.4 977.5 304.3 995.0 285.9M956.5 334.1C967.9 324.1 980.0 308.2 994.5 292.4M956.0 336.3C968.7 324.1 979.3 309.8 991.4 292.5M964.0 337.2C971.3 328.6 979.3 320.2 993.2 302.0M964.6 336.3C973.4 326.3 981.9 317.2 994.8 305.7M974.9 334.6C980.0 328.3 988.6 316.2 994.2 311.9M975.0 334.9C979.1 330.0 983.6 324.9 994.1 312.2M983.0 334.6C985.6 330.3 989.9 326.2 992.7 324.6M981.3 334.5C985.5 331.6 988.0 327.9 994.0 323.5M990.5 335.9C990.8 334.7 992.0 334.0 993.3 332.3M990.5 335.4C991.0 335.1 991.6 334.5 992.8 332.6" stroke="#d5e8d4" stroke-width="0.9" fill="none"/>
<path d="M841.2 276.6C888.8 272.6 934.7 277.2 988.3 276.3M840.6 278.2C873.3 274.7 904.7 274.5 987.6 276.7M987.2 277.3C991.1 277.3 993.0 280.8 993.4 284.8M986.8 278.4C992.1 277.3 995.1 279.8 994.0 283.2M995.2 283.4C995.8 298.5 993.6 318.2 993.7 331.6M993.7 284.0C995.4 302.1 994.6 321.4 993.7 329.7M994.2 329.8C993.4 334.5 992.2 337.7 986.6 335.9M994.0 328.9C993.4 334.4 992.5 335.5 986.1 336.7M988.1 337.7C945.9 338.2 896.3 337.6 840.6 336.4M987.5 336.3C957.8 337.6 925.4 336.7 842.0 337.2M841.9 336.8C837.3 335.8 834.7 333.2 834.1 330.5M840.9 336.0C836.7 338.4 833.8 334.2 835.0 328.3M834.5 331.6C835.1 314.7 834.5 300.0 834.2 283.1M834.0 331.2C834.5 314.0 836.1 300.1 835.0 282.6M834.9 284.3C835.8 280.3 836.0 276.7 842.8 277.2M834.1 285.6C833.9 278.6 837.9 278.9 842.6 275.7" stroke="#82b366" stroke-width="1.6" fill="none" stroke-linecap="round"/>
<path d="M836.3 345.1C836.8 344.8 836.8 344.1 839.6 340.6M835.1 345.8C837.0 344.1 838.9 342.2 840.1 341.4M833.8 357.1C838.6 348.2 845.2 346.6 848.0 339.7M835.1 354.3C839.1 353.3 841.8 348.8 849.0 339.5M836.8 363.7C843.0 358.9 848.4 349.1 855.1 342.0M836.7 366.3C843.3 354.7 851.3 346.3 856.0 341.6M835.5 374.8C844.2 365.5 850.4 357.1 863.6 341.6M834.6 375.2C842.1 367.9 848.1 359.4 866.4 339.9M837.0 385.0C848.9 368.2 866.5 350.6 873.5 341.4M834.4 384.5C848.4 369.8 860.7 354.9 871.9 342.3M834.5 392.4C854.5 376.0 867.4 353.5 881.8 340.6M834.2 395.5C849.5 376.8 863.2 360.0 880.4 339.9M835.0 400.5C855.0 383.2 869.7 363.0 891.9 338.9M836.5 402.0C856.6 380.7 875.6 357.7 889.1 339.9M843.4 400.4C859.1 385.0 878.5 366.6 897.1 341.2M844.0 401.4C860.2 383.0 878.0 365.1 899.2 340.8M852.5 402.3C865.1 386.2 878.9 371.0 906.8 342.4M852.5 403.6C872.0 379.0 891.9 356.9 907.6 342.5M861.8 402.0C875.1 387.3 888.3 374.6 914.5 341.0M861.2 401.7C876.0 384.6 892.0 367.0 915.1 341.5M870.9 403.5C879.6 391.3 893.4 377.8 924.6 339.6M871.5 401.6C883.9 388.2 894.8 372.0 925.3 340.8M876.4 403.7C898.6 380.2 916.5 356.8 933.5 341.2M877.0 402.3C899.9 378.1 920.4 353.2 930.3 339.8M885.8 401.1C901.6 387.5 913.5 368.9 939.7 339.0M885.6 403.4C898.2 389.2 910.2 376.1 941.7 342.7M893.5 401.2C905.1 387.7 917.4 376.6 949.5 340.8M893.3 402.0C910.7 383.0 928.8 363.4 947.7 341.1M903.4 403.9C919.5 383.5 939.3 363.2 956.3 341.4M902.7 402.3C915.6 389.6 925.9 377.0 955.7 342.7M911.4 401.0C926.7 383.6 943.5 368.5 964.2 341.0M911.5 403.9C929.4 382.7 945.2 363.2 967.0 342.1M920.7 403.7C932.2 390.6 942.8 378.0 973.6 342.0M918.3 402.4C933.3 387.0 945.2 374.1 975.0 342.7M928.2 402.6C945.1 383.3 963.4 361.8 981.8 341.6M927.4 400.2C946.9 378.6 967.2 356.0 981.7 341.8M936.7 401.3C950.2 385.0 965.5 365.6 989.3 341.7M938.6 402.5C958.8 379.2 979.7 353.4 992.1 342.4M944.0 402.1C953.8 391.7 964.1 377.4 996.5 344.2M945.5 402.0C955.8 390.0 968.6 374.8 996.5 345.5M952.7 400.9C969.5 386.9 983.7 368.4 996.8 354.6M951.9 401.0C966.3 387.1 976.9 374.4 993.8 354.1M961.0 400.6C969.2 393.5 975.5 385.0 995.2 363.5M963.3 400.4C974.6 387.8 986.9 372.6 994.9 362.2M969.2 403.0C974.9 396.9 980.6 391.6 996.6 374.0M971.5 402.3C977.6 393.2 986.9 384.0 994.6 373.6M978.3 401.9C985.5 396.5 990.6 388.6 995.1 383.5M980.4 400.3C982.0 397.1 987.2 393.5 994.1 381.8M987.4 402.4C988.3 399.8 993.1 395.2 994.6 394.1M986.0 403.1C990.4 398.1 993.7 395.2 995.9 393.9" stroke="#dae8fc" stroke-width="0.9" fill="none"/>
<path d="M840.2 339.5C875.1 340.4 905.4 338.0 990.1 340.8M840.3 340.0C890.0 340.1 938.5 341.2 989.8 339.9M988.9 339.8C993.3 338.5 996.0 342.6 996.9 348.0M989.3 338.9C994.8 339.5 997.5 343.6 994.5 345.3M996.1 345.6C996.7 354.4 994.5 368.7 995.4 396.2M996.7 346.4C995.2 361.8 996.8 379.7 996.6 396.1M995.9 396.2C996.2 399.8 994.2 402.1 988.9 403.9M997.2 397.0C996.9 400.2 994.0 403.3 988.9 403.5M990.0 404.2C949.1 406.0 901.5 404.3 840.9 403.8M990.4 404.2C932.4 401.4 875.7 400.8 841.2 403.6M841.7 403.2C838.1 402.8 834.7 400.7 836.0 396.2M842.8 404.4C835.4 404.1 833.4 400.9 835.1 394.8M834.8 396.8C832.4 379.5 836.9 365.6 834.8 346.6M834.8 396.6C833.1 379.5 833.1 359.2 835.4 345.6M834.7 346.8C835.8 340.9 836.1 339.7 842.1 340.6M835.7 347.6C833.6 343.8 835.5 339.7 841.2 338.2" stroke="#6c8ebf" stroke-width="1.6" fill="none" stroke-linecap="round"/>
<path d="M26.9 471.3C28.4 468.9 29.2 468.0 31.0 466.2M26.9 470.5C27.9 469.3 29.1 468.2 31.8 465.6M25.9 478.7C30.2 477.9 35.7 472.2 39.9 464.3M28.4 479.0C31.8 474.5 36.7 468.9 39.8 465.0M26.9 490.0C32.2 483.9 34.5 479.7 49.0 466.8M28.9 490.5C33.7 482.7 39.4 476.4 48.1 466.9M27.2 498.1C34.0 492.6 39.9 481.3 56.5 466.5M27.5 498.1C36.9 487.6 45.7 476.7 58.2 465.8M27.3 511.1C40.8 493.4 55.1 479.7 66.4 467.3M26.4 510.5C38.3 496.4 50.6 481.6 65.1 465.1M29.0 516.2C46.1 499.8 59.3 481.7 73.3 464.1M30.4 513.1C45.5 498.3 59.0 481.1 74.5 464.6M37.3 515.7C54.1 497.9 71.3 476.2 82.6 465.2M38.8 514.7C49.2 503.0 57.6 493.6 81.1 466.8M46.2 513.5C63.3 497.9 81.2 476.4 90.2 465.1M46.8 514.6C58.2 501.7 69.7 488.4 88.7 464.8M55.1 514.0C65.6 503.1 74.5 495.8 99.5 464.1M55.9 513.1C70.8 497.2 85.5 480.2 96.8 465.4M65.5 513.8C77.1 498.5 91.1 480.7 105.9 467.6M64.0 516.4C76.2 500.0 87.1 488.4 105.6 465.4M72.7 515.1C83.3 503.5 91.7 492.0 114.1 467.8M72.9 512.9C86.2 498.4 100.1 482.4 113.6 465.6M79.1 516.1C90.1 502.4 101.0 492.2 122.6 463.9M80.4 515.1C89.4 502.5 101.0 492.0 122.4 467.4M90.4 513.8C102.0 500.7 110.1 489.3 131.7 466.1M88.8 515.4C102.0 500.1 113.4 486.2 130.5 465.9M98.9 514.7C113.5 494.0 130.7 477.9 139.3 464.9M98.4 514.7C112.8 497.0 128.4 479.3 141.0 467.1M106.4 515.2C122.7 497.3 134.4 478.6 146.3 466.1M104.0 514.1C118.0 501.8 128.1 489.4 147.9 467.2M112.3 515.0C126.4 502.3 138.5 485.6 155.0 466.1M112.8 513.5C124.4 502.9 134.8 491.2 157.5 465.6M121.9 514.6C136.0 499.1 150.9 481.2 158.2 475.5M122.8 513.2C132.0 503.1 142.8 492.5 157.8 472.8M130.6 516.1C137.3 505.2 144.1 497.3 158.3 484.0M131.8 513.4C139.1 507.3 144.5 497.5 158.9 482.0M139.4 512.8C146.3 509.0 149.6 499.7 159.0 492.2M141.1 513.5C142.5 508.7 146.7 504.4 159.4 494.5M146.4 513.3C148.9 511.3 150.8 510.6 159.1 502.9M147.2 516.0C151.1 510.9 153.4 508.6 157.0 504.6M155.7 514.8C156.2 514.4 156.8 513.5 157.8 512.5M155.7 514.6C156.4 514.0 157.0 513.3 157.7 512.4" stroke="#fff2cc" stroke-width="0.9" fill="none"/>
<path d="M31.7 465.8C59.7 464.5 92.1 463.6 151.6 464.4M31.6 464.5C73.2 462.9 113.6 462.2 152.4 465.4M151.6 464.9C155.9 466.2 158.9 466.9 158.3 471.3M150.5 464.8C156.4 465.9 157.2 465.6 160.0 471.4M158.0 471.7C157.9 484.4 156.2 498.1 158.5 508.9M158.2 470.7C158.6 479.8 158.7 490.7 157.6 509.2M158.6 508.7C158.7 513.7 155.8 516.3 151.4 514.8M159.7 507.9C159.3 514.8 155.1 516.6 152.5 515.2M153.4 515.8C108.5 515.2 61.2 515.7 32.7 516.2M152.7 516.3C111.8 513.8 70.0 513.3 33.2 516.0M33.1 515.7C27.8 516.0 25.6 513.5 26.8 509.6M34.4 516.1C28.6 515.8 24.9 511.8 27.4 510.3M25.5 509.1C28.1 497.9 23.7 483.0 26.5 471.5M25.5 508.8C26.2 499.7 25.6 490.9 25.5 470.3M26.1 471.9C25.9 466.8 27.5 464.1 32.8 463.8M25.6 470.7C26.9 466.0 28.3 463.7 33.7 466.5" stroke="#d6b656" stroke-width="1.6" fill="none" stroke-linecap="round"/>
<path d="M186.2 472.4C187.5 470.6 189.8 469.1 190.7 467.0M186.9 471.8C187.9 470.7 188.7 469.3 190.4 467.6M187.0 480.0C189.9 477.1 191.0 474.8 197.5 469.0M188.2 481.9C189.2 478.3 191.9 475.0 197.9 467.4M187.0 489.9C194.1 481.0 202.8 474.7 207.0 466.4M187.3 490.8C193.8 482.9 201.8 472.5 207.6 466.1M187.0 500.4C195.7 493.2 203.9 480.6 217.0 468.2M185.4 502.4C197.0 488.6 206.5 477.0 214.8 467.6M187.1 511.9C193.7 499.6 202.6 492.2 225.4 465.7M186.5 510.5C196.9 496.6 207.9 484.8 222.7 468.6M193.1 514.2C203.0 502.8 214.3 491.0 233.7 466.2M192.0 513.0C203.9 499.3 215.8 487.2 231.9 465.6M202.1 515.0C214.7 498.7 228.3 483.6 240.9 465.9M199.9 511.9C210.7 501.3 222.0 489.6 241.8 468.8M210.8 511.5C223.4 493.5 238.8 479.6 250.7 465.7M208.4 513.5C217.3 503.5 225.9 495.3 247.5 466.8M216.6 511.3C229.9 497.5 246.3 481.9 257.9 466.6M218.1 513.3C230.6 497.9 244.3 480.8 259.3 467.4M226.8 513.9C237.7 502.3 247.9 486.8 266.4 468.8M223.9 513.8C238.7 497.6 253.4 482.1 264.7 466.6M234.4 513.4C244.1 502.2 251.1 493.5 275.3 467.1M232.4 513.9C247.6 498.5 258.9 484.5 273.4 468.1M244.0 514.0C251.2 500.3 260.9 491.0 283.2 465.8M243.4 514.5C252.8 501.4 263.2 490.8 282.8 467.6M251.5 513.2C261.8 498.0 275.8 484.0 290.9 466.1M251.9 512.0C260.1 501.3 269.2 490.7 290.0 468.9M260.8 511.6C269.5 502.6 276.4 491.5 299.8 465.4M259.8 514.0C271.7 498.8 286.7 483.2 301.0 466.5M268.3 511.6C277.7 503.7 285.6 492.6 309.1 466.8M269.0 511.8C281.2 496.7 295.9 479.6 305.6 466.9M275.4 513.6C289.0 495.0 305.9 478.6 314.0 468.8M276.5 513.6C282.9 503.2 291.3 495.1 313.1 470.3M283.8 514.4C292.0 505.6 296.3 500.3 313.2 478.4M282.5 514.8C292.1 506.0 298.1 497.0 315.0 478.1M293.3 515.2C300.4 506.7 306.1 499.9 312.0 489.5M291.0 513.8C297.9 507.6 302.2 501.2 311.6 489.2M301.0 511.7C304.4 507.8 308.4 503.8 313.1 497.3M300.8 513.1C305.7 507.3 309.3 503.1 312.0 499.0M309.2 512.8C310.4 511.7 311.5 510.6 313.5 508.8M309.1 513.5C310.3 512.5 311.0 511.3 313.2 508.2" stroke="#fff2cc" stroke-width="0.9" fill="none"/>
<path d="M192.4 466.4C223.4 464.7 252.8 464.3 307.0 466.1M191.6 465.6C234.5 464.6 278.5 463.6 307.6 467.0M307.2 466.1C312.6 465.9 313.5 468.4 313.8 473.4M306.6 466.4C312.8 465.4 313.3 468.7 314.4 474.4M314.8 472.5C312.0 484.6 312.0 499.2 314.8 508.3M314.6 472.8C313.2 480.4 312.8 486.3 315.1 507.4M314.2 507.2C314.6 513.0 312.6 514.1 307.0 513.9M313.3 507.9C314.3 512.8 311.8 513.3 306.4 512.9M309.0 513.9C267.2 512.2 226.8 512.4 191.8 514.0M308.2 514.2C275.1 514.0 240.9 513.3 191.2 513.6M192.6 514.2C188.8 513.2 185.1 512.8 184.5 507.7M192.3 513.5C189.4 515.4 184.6 510.6 185.8 505.8M184.7 508.0C186.1 492.0 186.9 480.3 186.2 473.1M185.9 507.8C185.5 493.9 184.7 480.1 185.9 473.1M185.6 473.1C186.9 467.8 187.2 465.0 191.6 466.9M185.2 472.8C184.6 469.1 186.9 467.6 191.0 467.5" stroke="#d6b656" stroke-width="1.6" fill="none" stroke-linecap="round"/>
<path d="M771.4 471.4C772.9 469.6 774.5 468.4 776.3 465.6M771.4 471.4C772.6 469.6 773.8 468.3 776.1 466.1M773.0 480.1C777.9 476.9 779.7 470.3 785.6 465.1M771.2 482.2C777.2 474.8 780.2 469.9 784.5 465.3M770.6 491.0C779.9 479.5 789.5 470.8 791.1 467.0M771.9 491.0C778.2 482.6 782.6 476.5 791.2 467.3M770.8 499.2C778.7 489.8 786.6 482.8 799.4 466.1M772.7 498.7C780.8 487.6 792.0 476.4 801.3 466.4M771.6 510.3C782.6 494.1 796.6 480.4 809.7 465.7M769.8 510.6C785.9 491.6 801.4 475.8 807.8 466.1M780.2 512.6C791.3 494.3 806.6 479.8 819.5 467.5M779.7 512.6C791.5 494.6 806.0 479.9 816.9 467.4M788.5 511.7C797.0 498.1 808.2 486.5 824.5 467.5M788.3 512.1C799.3 497.6 810.6 484.1 824.3 464.2M796.0 512.1C807.9 495.7 820.5 482.9 833.3 466.0M793.8 512.2C803.8 501.2 810.6 492.2 836.1 464.4M801.3 511.0C815.5 496.7 833.5 479.4 843.0 467.2M803.0 509.4C810.9 502.1 820.0 491.0 843.6 467.0M810.4 510.9C823.1 498.8 834.4 483.1 850.0 465.5M811.9 510.6C827.1 495.1 841.7 477.5 849.5 467.3M821.4 511.7C829.5 498.6 837.4 488.3 857.6 466.2M818.7 512.6C829.3 502.3 836.9 491.8 859.0 467.7M827.2 510.0C837.8 501.2 847.3 491.5 868.5 465.6M827.3 512.4C842.3 494.0 856.7 478.2 868.8 465.0M837.2 512.3C843.1 503.4 854.4 493.3 874.1 465.3M836.3 510.2C846.3 499.9 855.2 490.3 875.5 465.0M846.3 510.3C855.4 497.0 867.2 485.2 886.2 466.5M845.2 511.9C857.6 497.3 868.2 483.8 882.6 465.3M855.3 512.5C866.9 499.2 876.1 482.7 893.5 467.1M854.6 509.4C864.8 499.3 874.7 486.5 891.8 467.5M860.5 511.6C874.2 495.3 890.9 481.6 898.1 466.7M863.5 510.1C874.2 497.1 889.1 480.1 899.7 469.8M871.8 511.0C882.3 499.1 894.5 484.6 900.8 478.7M868.8 510.8C881.1 497.2 891.9 486.0 901.3 477.6M880.1 510.6C885.6 505.3 891.2 496.5 900.3 486.0M877.4 512.7C884.7 504.9 889.0 498.7 898.5 487.8M888.0 512.8C892.2 505.4 897.8 499.0 901.3 497.7M888.4 509.9C889.8 508.9 892.5 506.0 900.9 495.6M895.6 512.0C895.8 510.7 896.5 509.3 898.9 506.6M895.7 511.6C896.0 510.1 897.3 509.2 899.5 505.9" stroke="#fff2cc" stroke-width="0.9" fill="none"/>
<path d="M776.3 464.2C809.1 462.3 838.3 461.7 894.2 465.0M776.5 465.1C805.8 467.9 835.8 466.5 895.1 465.1M893.4 465.1C897.4 465.0 901.7 468.3 899.9 471.0M894.5 464.6C896.6 464.8 901.3 467.0 901.4 473.6M899.6 471.7C899.4 484.7 903.1 494.4 900.8 505.3M899.5 470.7C901.3 482.6 900.4 494.6 899.5 506.9M900.4 505.4C899.4 509.4 898.5 511.2 894.1 511.9M901.2 505.7C899.6 511.1 899.5 513.4 892.0 512.2M894.3 513.1C870.6 513.3 841.6 511.6 776.7 512.9M893.9 511.5C850.3 513.7 807.0 514.5 776.8 513.0M777.7 512.4C774.0 512.4 770.2 510.5 771.6 506.0M778.0 511.5C773.8 512.7 771.5 509.9 769.1 504.6M770.5 505.5C769.8 494.8 773.4 485.2 769.9 471.1M771.1 505.7C769.8 493.0 770.7 481.4 769.9 470.6M770.7 472.1C771.3 466.2 773.3 464.8 777.3 464.9M770.3 472.9C772.1 467.7 773.7 466.3 776.4 465.0" stroke="#d6b656" stroke-width="1.6" fill="none" stroke-linecap="round"/>
<path d="M930.6 471.0C932.1 470.1 932.2 469.0 935.1 466.4M931.1 471.0C932.5 469.2 934.1 467.6 935.0 466.8M932.0 482.0C935.7 477.3 937.9 473.1 943.8 464.8M929.6 480.8C935.2 476.2 939.7 469.6 942.0 465.2M931.5 491.4C936.9 483.6 943.2 476.6 953.9 465.0M929.3 490.4C938.0 482.6 945.5 473.9 953.2 467.1M932.5 501.4C938.7 491.7 945.8 484.2 958.4 467.1M929.5 500.0C940.8 489.0 949.0 478.9 961.4 466.9M930.9 510.7C941.7 500.0 946.9 489.8 970.4 464.6M929.9 507.7C941.5 497.0 952.8 485.2 967.5 466.9M936.0 511.6C952.0 495.5 967.3 478.7 975.8 465.5M936.5 512.8C951.2 497.5 963.2 482.5 978.9 465.8M947.3 513.9C955.6 500.9 963.2 490.6 985.1 467.4M946.0 513.3C954.3 502.6 962.7 492.5 984.5 464.9M952.1 510.5C968.3 497.2 982.4 480.9 994.1 466.0M955.0 511.6C968.9 494.1 984.9 477.7 993.6 465.0M961.7 511.5C974.2 497.7 986.8 487.9 1000.1 466.1M964.1 510.4C976.1 496.8 989.8 480.5 1003.3 464.3M968.9 512.8C980.6 498.7 994.2 486.5 1012.3 467.6M970.3 513.1C985.2 496.8 997.0 481.0 1010.5 467.9M979.4 512.1C990.0 498.8 998.4 487.5 1018.9 467.2M980.6 510.9C990.9 498.6 1000.4 486.7 1018.9 468.0M988.1 511.0C999.8 498.0 1011.2 484.0 1027.9 465.1M985.6 514.0C998.5 499.8 1009.0 486.9 1027.7 467.6M994.3 510.5C1005.4 503.6 1015.1 490.5 1034.8 468.3M994.2 513.1C1009.8 496.1 1023.9 479.4 1035.5 464.7M1004.1 513.9C1012.0 500.6 1022.3 490.4 1041.8 466.3M1002.3 511.9C1014.3 498.3 1027.0 487.0 1045.6 467.2M1011.6 513.6C1025.0 499.0 1037.5 481.5 1052.7 467.1M1012.9 510.6C1025.1 498.7 1036.7 484.7 1053.8 465.3M1019.9 513.9C1035.7 496.5 1049.8 480.2 1055.6 470.4M1019.5 510.8C1032.5 497.6 1045.0 484.7 1057.5 472.7M1030.9 511.9C1039.2 501.5 1046.3 490.7 1057.5 479.5M1030.3 510.1C1035.6 504.8 1044.1 494.8 1055.4 480.1M1039.3 510.3C1042.2 506.5 1045.8 501.2 1057.5 491.8M1036.6 512.0C1040.2 506.7 1044.4 502.3 1055.5 488.4M1044.5 513.2C1047.8 508.2 1051.6 505.8 1055.6 498.2M1045.8 513.3C1050.4 508.0 1053.7 503.3 1055.6 500.9M1054.4 511.9C1054.5 511.6 1055.5 510.5 1056.4 509.1M1054.2 512.2C1054.6 511.5 1055.5 510.5 1056.2 509.5" stroke="#fff2cc" stroke-width="0.9" fill="none"/>
<path d="M936.3 464.9C963.1 464.3 986.5 465.5 1052.0 465.6M935.7 465.0C968.7 465.6 1004.6 466.7 1051.6 464.7M1050.5 465.3C1056.2 466.4 1057.1 466.8 1057.1 471.7M1050.2 465.8C1056.1 466.7 1057.9 468.7 1058.0 470.9M1057.0 471.8C1058.6 479.5 1057.5 488.9 1057.9 506.8M1056.8 471.4C1057.5 481.9 1056.9 492.1 1057.9 507.1M1057.5 506.1C1057.5 509.9 1054.8 512.6 1050.4 512.0M1056.3 507.4C1055.8 510.1 1054.8 514.7 1050.0 512.4M1051.7 512.3C1019.4 516.7 980.7 516.2 937.1 513.8M1051.9 513.8C1007.2 514.6 962.9 513.2 937.2 512.9M937.1 513.1C931.4 514.2 929.8 511.5 931.1 506.8M937.6 512.6C932.5 512.7 931.1 510.1 929.9 507.0M930.5 507.3C928.3 501.2 930.5 490.3 929.3 470.9M929.2 506.0C929.2 498.8 929.2 491.7 929.3 470.8M930.1 472.3C930.3 467.3 932.9 464.6 937.5 464.7M929.9 471.7C928.7 469.3 931.6 463.6 937.5 463.8" stroke="#d6b656" stroke-width="1.6" fill="none" stroke-linecap="round"/>
<path d="M30 227.7C300 225 780 225 1052 227.6Q1071 228 1072 247.5" stroke="#67ab9f" stroke-width="3.2" fill="none" stroke-dasharray="9.4 9.5" stroke-dashoffset="-8.3" stroke-linecap="round"/>
<path d="M31 227.9C300 231 780 231 1051 227.9Q1070.5 229 1071.5 248" stroke="#67ab9f" stroke-width="3.2" fill="none" stroke-dasharray="9.4 9.5" stroke-dashoffset="-8.3" stroke-linecap="round"/>
<path d="M1072 247.5C1070 330 1070 450 1072 530Q1071 549 1053 551.8" stroke="#67ab9f" stroke-width="3.2" fill="none" stroke-dasharray="9.4 9.5" stroke-dashoffset="-8.2" stroke-linecap="round"/>
<path d="M1071.5 248C1073.5 330 1074.5 450 1072.5 530Q1072 550 1053 552.3" stroke="#67ab9f" stroke-width="3.2" fill="none" stroke-dasharray="9.4 9.5" stroke-dashoffset="-8.2" stroke-linecap="round"/>
<path d="M11 533Q12 551 32 552C372 545.9 712 545.9 1051 551.8" stroke="#67ab9f" stroke-width="3.2" fill="none" stroke-dasharray="9.4 9.5" stroke-dashoffset="-8.0" stroke-linecap="round"/>
<path d="M11.5 533Q11.5 551.5 31 552.4C372 561.6 712 561.6 1051 552.3" stroke="#67ab9f" stroke-width="3.2" fill="none" stroke-dasharray="9.4 9.5" stroke-dashoffset="-8.0" stroke-linecap="round"/>
<path d="M30 227.7Q12.5 229 12 247C13 330 14 450 11 533" stroke="#67ab9f" stroke-width="3.2" fill="none" stroke-dasharray="9.4 9.5" stroke-dashoffset="-13.4" stroke-linecap="round"/>
<path d="M31 227.9Q14 229 13 247.5C17 330 16 450 11.5 533" stroke="#67ab9f" stroke-width="3.2" fill="none" stroke-dasharray="9.4 9.5" stroke-dashoffset="-13.4" stroke-linecap="round"/>
<path d="M251.2 367.9Q330.7 315.1 405.4 345.0M251.2 367.9Q324.0 328.0 405.4 345.0" stroke="#3a6358" stroke-width="3.5" fill="none" stroke-linecap="round"/>
<path d="M251.2 367.9L260.0 355.8L261.9 362.4L267.5 367.1Z" fill="#3a6358" stroke="#3a6358" stroke-width="2.8" stroke-linejoin="round"/>
<path d="M258.1 364.4L259.7 362.2L261.0 364.2Z" fill="#dfe5e2" stroke="none"/>
<path d="M405.4 345.0L393.3 335.0L394.3 342.9L391.5 350.0Z" fill="#3a6358" stroke="#3a6358" stroke-width="2.8" stroke-linejoin="round"/>
<path d="M398.3 343.6L396.1 341.8L395.8 344.5Z" fill="#dfe5e2" stroke="none"/>
<path d="M678.8 345.4Q772.5 323.1 833.3 367.9M678.8 345.4Q773.4 317.2 833.3 367.9" stroke="#3a6358" stroke-width="3.5" fill="none" stroke-linecap="round"/>
<path d="M678.8 345.4L691.7 335.8L690.8 343.1L694.2 349.6Z" fill="#3a6358" stroke="#3a6358" stroke-width="2.8" stroke-linejoin="round"/>
<path d="M686.5 343.9L688.8 342.2L689.3 344.7Z" fill="#dfe5e2" stroke="none"/>
<path d="M833.3 367.9L817.9 363.3L824.5 359.9L827.9 353.8Z" fill="#3a6358" stroke="#3a6358" stroke-width="2.8" stroke-linejoin="round"/>
<path d="M827.6 362.8L824.8 361.9L826.6 360.2Z" fill="#dfe5e2" stroke="none"/>
<path d="M167.7 403.0Q96.8 412.7 91.7 462.4M167.7 403.0Q98.1 414.3 91.7 462.4" stroke="#3a6358" stroke-width="3.5" fill="none" stroke-linecap="round"/>
<path d="M167.7 403.0L151.8 399.3L155.5 405.3L154.9 412.2Z" fill="#3a6358" stroke="#3a6358" stroke-width="2.8" stroke-linejoin="round"/>
<path d="M159.9 404.5L157.0 403.8L157.6 406.2Z" fill="#dfe5e2" stroke="none"/>
<path d="M91.7 462.4L88.7 446.5L95.1 451.2L102.8 452.0Z" fill="#3a6358" stroke="#3a6358" stroke-width="2.8" stroke-linejoin="round"/>
<path d="M93.9 455.2L93.4 452.3L95.9 453.3Z" fill="#dfe5e2" stroke="none"/>
<path d="M172.3 403.0Q251.4 422.8 248.8 461.8M172.3 403.0Q255.1 418.0 248.8 461.8" stroke="#3a6358" stroke-width="3.5" fill="none" stroke-linecap="round"/>
<path d="M172.3 403.0L187.6 398.1L184.2 404.5L185.1 411.5Z" fill="#3a6358" stroke="#3a6358" stroke-width="2.8" stroke-linejoin="round"/>
<path d="M180.0 404.0L182.7 403.1L182.3 405.5Z" fill="#dfe5e2" stroke="none"/>
<path d="M248.8 461.8L241.5 448.3L249.6 450.6L258.0 448.9Z" fill="#3a6358" stroke="#3a6358" stroke-width="2.8" stroke-linejoin="round"/>
<path d="M249.3 454.6L248.0 452.2L251.0 452.3Z" fill="#dfe5e2" stroke="none"/>
<path d="M911.5 402.4Q863.6 413.6 836.1 462.4M911.5 402.4Q866.3 417.1 836.1 462.4" stroke="#3a6358" stroke-width="3.5" fill="none" stroke-linecap="round"/>
<path d="M911.5 402.4L896.2 400.5L900.3 406.3L900.5 413.4Z" fill="#3a6358" stroke="#3a6358" stroke-width="2.8" stroke-linejoin="round"/>
<path d="M904.3 404.9L901.6 404.5L902.3 406.9Z" fill="#dfe5e2" stroke="none"/>
<path d="M836.1 462.4L838.0 447.7L842.9 453.0L850.2 455.0Z" fill="#3a6358" stroke="#3a6358" stroke-width="2.8" stroke-linejoin="round"/>
<path d="M840.5 456.4L840.8 453.7L843.0 455.0Z" fill="#dfe5e2" stroke="none"/>
<path d="M916.5 402.4Q959.0 416.6 991.3 462.4M916.5 402.4Q962.5 412.3 991.3 462.4" stroke="#3a6358" stroke-width="3.5" fill="none" stroke-linecap="round"/>
<path d="M916.5 402.4L931.9 400.5L927.8 406.3L927.6 413.4Z" fill="#3a6358" stroke="#3a6358" stroke-width="2.8" stroke-linejoin="round"/>
<path d="M923.7 404.9L926.5 404.5L925.7 406.9Z" fill="#dfe5e2" stroke="none"/>
<path d="M991.3 462.4L978.4 455.0L985.3 453.0L990.0 447.7Z" fill="#3a6358" stroke="#3a6358" stroke-width="2.8" stroke-linejoin="round"/>
<path d="M987.4 456.4L985.1 455.0L987.2 453.7Z" fill="#dfe5e2" stroke="none"/>
<path d="M541.4 140C540.6 165 542.2 195 541 220M542.4 140C543.2 170 541.8 200 542.4 220" stroke="#3a6358" stroke-width="3.5" fill="none" stroke-linecap="round"/>
<path d="M542.0 134.7L534.1 149.6L542.0 147.4L549.8 149.6Z" fill="#3a6358" stroke="#3a6358" stroke-width="2.8" stroke-linejoin="round"/>
<path d="M542.0 142.8L540.6 145.5L543.4 145.5Z" fill="#dfe5e2" stroke="none"/>
<path d="M541.6 225.0L534.7 210.6L541.9 212.8L549.3 210.6Z" fill="#3a6358" stroke="#3a6358" stroke-width="2.8" stroke-linejoin="round"/>
<path d="M541.8 217.1L540.6 214.5L543.2 214.5Z" fill="#dfe5e2" stroke="none"/>
<g>
<text x="541.7" y="101.7" font-size="23.75" text-anchor="middle">AgentMesh Control Plane</text>
<text x="461.5" y="185.7" font-size="22.3" text-anchor="middle">orchestration</text>
<text x="541.4" y="354.6" font-size="23.9" text-anchor="middle">Event Streaming</text>
<text x="169.3" y="315.8" font-size="23.7" text-anchor="middle">Agent</text>
<text x="169.4" y="379" font-size="23.9" text-anchor="middle">Connector</text>
<text x="90.2" y="497.4" font-size="23.7" text-anchor="middle">Memory</text>
<text x="248.1" y="497" font-size="23.7" text-anchor="middle">Tools</text>
<text x="327.6" y="321.9" font-size="22.3" text-anchor="middle">pub/sub</text>
<text x="755" y="321.9" font-size="22.3" text-anchor="middle">pub/sub</text>
<text x="913.3" y="315.8" font-size="23.7" text-anchor="middle">Agent</text>
<text x="913.5" y="379" font-size="23.9" text-anchor="middle">Connector</text>
<text x="834.6" y="497" font-size="23.7" text-anchor="middle">Tools</text>
<text x="992.5" y="497.4" font-size="23.7" text-anchor="middle">Memory</text>
</g>
</svg>
</body></html>
